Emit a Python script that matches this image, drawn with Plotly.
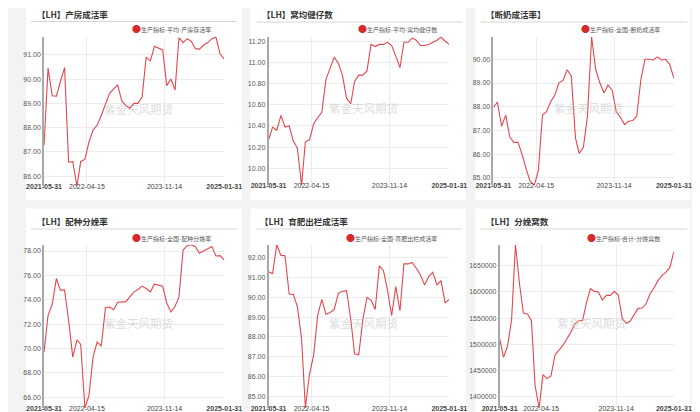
import plotly.graph_objects as go
import pandas as pd

# ---------------- data ----------------
dates = pd.date_range("2021-05-31", periods=45, freq=pd.offsets.MonthEnd())

titles = ["【LH】产房成活率", "【LH】窝均健仔数", "【断奶成活率】",
          "【LH】配种分娩率", "【LH】育肥出栏成活率", "【LH】分娩窝数"]
series_names = ["生产指标-平均-产房存活率", "生产指标-平均-窝均健仔数", "生产指标-全国-断奶成活率",
                "生产指标-全国-配种分娩率", "生产指标-全国-育肥出栏成活率", "生产指标-合计-分娩窝数"]

farrowing_room_survival = [87.27, 90.45, 89.31, 89.30, 89.90, 90.47, 86.58, 86.60, 85.60, 86.60,
                           86.70, 87.40, 87.90, 88.10, 88.50, 89.00, 89.40, 89.60, 89.75, 89.10,
                           88.90, 88.80, 89.00, 89.00, 89.27, 90.90, 90.75, 91.35, 91.28, 91.20,
                           89.73, 90.00, 89.55, 91.70, 91.50, 91.66, 91.55, 91.25, 91.23, 91.40,
                           91.50, 91.66, 91.73, 91.03, 90.83]
healthy_per_litter = [10.27, 10.39, 10.36, 10.50, 10.39, 10.40, 10.26, 10.19, 9.84, 10.25,
                      10.27, 10.42, 10.48, 10.53, 10.84, 10.95, 11.05, 10.99, 10.88, 10.66,
                      10.61, 10.82, 10.88, 10.88, 10.92, 11.17, 11.15, 11.17, 11.17, 11.19,
                      11.16, 11.06, 10.95, 11.19, 11.19, 11.23, 11.21, 11.16, 11.16, 11.17,
                      11.19, 11.21, 11.24, 11.20, 11.17]
weaning_survival = [87.96, 88.20, 87.18, 87.65, 86.72, 86.50, 86.50, 85.98, 85.35, 84.86,
                    84.69, 85.31, 87.65, 87.79, 88.21, 88.49, 89.01, 89.11, 89.56, 89.30,
                    86.69, 86.03, 86.30, 87.60, 90.94, 89.58, 89.01, 88.58, 88.92, 88.69,
                    87.79, 87.56, 87.25, 87.39, 87.42, 87.60, 89.15, 90.00, 90.00, 89.97,
                    90.10, 89.97, 90.00, 89.79, 89.20]
farrowing_rate = [69.70, 72.73, 73.63, 75.75, 74.79, 74.79, 72.31, 69.29, 70.72, 70.33,
                  65.12, 66.13, 69.29, 70.53, 70.20, 73.36, 73.41, 73.19, 73.80, 73.85,
                  73.85, 74.24, 74.65, 74.84, 75.12, 74.92, 74.65, 75.28, 75.20, 75.12,
                  73.74, 73.00, 73.47, 74.24, 78.08, 78.44, 78.52, 78.36, 77.81, 78.00,
                  78.22, 78.38, 77.59, 77.62, 77.26]
finishing_survival = [91.29, 91.20, 92.66, 92.12, 92.10, 90.17, 90.15, 89.53, 87.92, 84.41,
                      86.14, 87.07, 89.10, 89.90, 89.15, 89.24, 89.39, 90.20, 90.31, 90.34,
                      88.88, 87.15, 87.10, 88.85, 90.00, 89.86, 89.39, 91.59, 91.36, 90.34,
                      89.07, 90.54, 89.32, 91.69, 91.69, 91.76, 91.47, 91.14, 90.63, 91.05,
                      91.27, 90.63, 90.85, 89.73, 89.90]
litters_farrowed = [1511700, 1475500, 1497100, 1546600, 1690000, 1615100, 1559900, 1558000, 1545300, 1421600,
                    1379000, 1442500, 1434900, 1439900, 1479900, 1489500, 1498300, 1511000, 1523100, 1539000,
                    1545300, 1545300, 1580200, 1606200, 1601100, 1599900, 1584600, 1593500, 1593500, 1601100,
                    1594200, 1549100, 1540200, 1544000, 1556700, 1568800, 1569400, 1577000, 1596100, 1607500,
                    1621500, 1631000, 1637300, 1646800, 1676600]

x_tick_dates = ["2021-05-31", "2022-04-15", "2023-11-14", "2025-01-31"]
x_tick_text = ["<b>2021-05-31</b>", "2022-04-15", "2023-11-14", "<b>2025-01-31</b>"]

all_series = [farrowing_room_survival, healthy_per_litter, weaning_survival,
              farrowing_rate, finishing_survival, litters_farrowed]
y_dticks = [1, 0.2, 1, 2, 1, 50000]
y_formats = [".2f", ".2f", ".2f", ".2f", ".2f", "d"]

# ---------------- layout (pixels) ----------------
W, H = 700, 412
LINE = "#e2474d"

# plot areas: (left, right, top, bottom) in px
areas = [(19, 209, 29, 178), (255.7, 446.3, 29, 177.3), (492.7, 683, 29, 177.3),
         (19, 209, 236.7, 400), (255.7, 446.3, 236.7, 400), (499.3, 683, 236.7, 400)]
cards = [(0, 227.5, 0, 192), (236.5, 463.5, 0, 192), (473.5, 700, 0, 192),
         (0, 227.5, 200.5, 412), (236.5, 463.5, 200.5, 412), (473.5, 700, 200.5, 412)]
title_pos = [(10, 6), (247, 6), (483, 6), (10, 213), (245, 213), (483, 213)]
underline = [(5, 222, 13.5), (243, 460, 14), (479, 697, 14),
             (5, 223, 221), (243, 460, 221), (479, 697, 221)]
legend_right = [(197, 21), (435, 21), (671, 21), (197, 229), (435, 229), (671, 229)]


def px(x):
    return x / W


def py(y):
    return 1 - y / H


fig = go.Figure()
shapes = []
annotations = []
layout = {}

for i in range(6):
    n = "" if i == 0 else str(i + 1)
    vals = all_series[i]
    fig.add_trace(go.Scatter(x=dates, y=vals, mode="lines", name=series_names[i],
                             line=dict(color=LINE, width=1.1),
                             xaxis="x" + n, yaxis="y" + n, showlegend=False))
    l, r, t, b = areas[i]
    layout["xaxis" + n] = dict(
        domain=[px(l), px(r)], anchor="y" + n, type="date",
        range=[x_tick_dates[0], x_tick_dates[-1]],
        tickmode="array", tickvals=x_tick_dates, ticktext=x_tick_text,
        showgrid=True, gridcolor="#ececec", gridwidth=1,
        showline=False, zeroline=False, ticks="", ticklabelstandoff=-5,
        tickfont=dict(size=7, color="#444", family="Liberation Sans, Arial"),
    )
    layout["yaxis" + n] = dict(
        domain=[py(b), py(t)], anchor="x" + n,
        range=[min(vals), max(vals)], dtick=y_dticks[i], tickformat=y_formats[i],
        showgrid=True, gridcolor="#ececec", gridwidth=1,
        showline=True, linecolor="#a8a8a8", linewidth=1.5,
        zeroline=False, ticks="",
        tickfont=dict(size=7, color="#555", family="Liberation Sans, Arial"),
    )
    cx0, cx1, cy0, cy1 = cards[i]
    shapes.append(dict(type="rect", xref="paper", yref="paper", layer="below",
                       x0=px(cx0), x1=px(cx1), y0=py(cy1), y1=py(cy0),
                       fillcolor="white", line=dict(width=0)))
    ux0, ux1, uy = underline[i]
    shapes.append(dict(type="line", xref="paper", yref="paper",
                       x0=px(ux0), x1=px(ux1), y0=py(uy), y1=py(uy),
                       line=dict(color="#d6d6d6", width=1)))
    tx, ty = title_pos[i]
    annotations.append(dict(text="<b>" + titles[i] + "</b>", xref="paper", yref="paper",
                            x=px(tx), y=py(ty), xanchor="left", yanchor="middle",
                            showarrow=False,
                            font=dict(size=8.5, color="#333", family="Noto Sans CJK SC")))
    lx, ly = legend_right[i]
    annotations.append(dict(text="<span style='color:#d42a2f;font-size:9px'>●</span>" + series_names[i],
                            xref="paper", yref="paper", x=px(lx), y=py(ly),
                            xanchor="right", yanchor="middle", showarrow=False,
                            font=dict(size=6, color="#555", family="Noto Sans CJK SC")))
    annotations.append(dict(text="紫金天风期货", xref="paper", yref="paper",
                            x=px((l + r) / 2 + 5), y=py((t + b) / 2 - 3),
                            xanchor="center", yanchor="middle", showarrow=False,
                            font=dict(size=11.5, color="rgba(190,190,190,0.55)",
                                      family="Noto Sans CJK SC")))

fig.update_layout(
    width=W, height=H, margin=dict(l=0, r=0, t=0, b=0),
    paper_bgcolor="#f3f3f3", plot_bgcolor="rgba(0,0,0,0)",
    shapes=shapes, annotations=annotations, **layout,
)

fig.write_html("out.html")
